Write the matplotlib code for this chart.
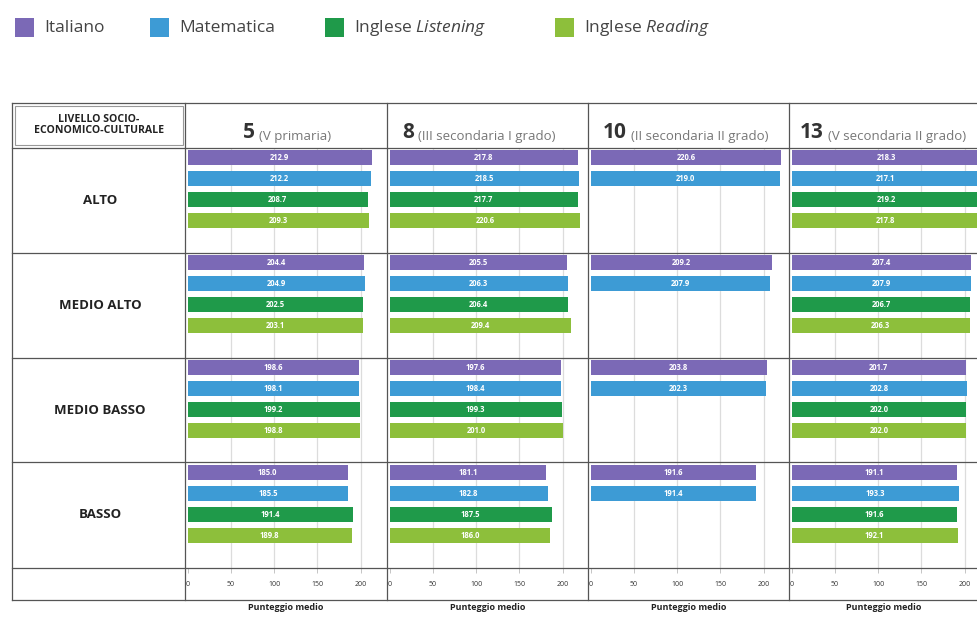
import matplotlib
matplotlib.use("Agg")
import matplotlib.pyplot as plt
from matplotlib.lines import Line2D
from matplotlib.patches import Rectangle

plt.rcParams['font.family'] = ['Open Sans', 'DejaVu Sans']
plt.rcParams['mathtext.fontset'] = 'custom'
plt.rcParams['mathtext.rm'] = 'Open Sans'
plt.rcParams['mathtext.it'] = 'Open Sans:italic'

# data
livelli = ["ALTO", "MEDIO ALTO", "MEDIO BASSO", "BASSO"]
materie = ["Italiano", "Matematica", "Inglese $\\it{Listening}$", "Inglese $\\it{Reading}$"]
colori = ["#7b69b6", "#3d9bd5", "#1f9a4a", "#8dbf3b"]

gradi = ["5", "8", "10", "13"]
sottotitoli = ["(V primaria)", "(III secondaria I grado)", "(II secondaria II grado)", "(V secondaria II grado)"]

# rows = livelli, columns = materie (None = not tested)
grado5 = [[212.9, 212.2, 208.7, 209.3],
          [204.4, 204.9, 202.5, 203.1],
          [198.6, 198.1, 199.2, 198.8],
          [185.0, 185.5, 191.4, 189.8]]
grado8 = [[217.8, 218.5, 217.7, 220.6],
          [205.5, 206.3, 206.4, 209.4],
          [197.6, 198.4, 199.3, 201.0],
          [181.1, 182.8, 187.5, 186.0]]
grado10 = [[220.6, 219.0, None, None],
           [209.2, 207.9, None, None],
           [203.8, 202.3, None, None],
           [191.6, 191.4, None, None]]
grado13 = [[218.3, 217.1, 219.2, 217.8],
           [207.4, 207.9, 206.7, 206.3],
           [201.7, 202.8, 202.0, 202.0],
           [191.1, 193.3, 191.6, 192.1]]
dati = [grado5, grado8, grado10, grado13]
tick_vals = [0, 50, 100, 150, 200]

W, H = 978, 617
fig = plt.figure(figsize=(W / 100, H / 100), dpi=100)

def fx(x):
    return x / W

def fy(y):
    return 1 - y / H

panel_x = [185, 387, 588, 789, 978]
top_rows, bot_rows, bottom_tab = 148, 568, 600
px_per_unit = 0.865

for k in range(4):
    x0, x1 = panel_x[k], panel_x[k + 1]
    ax = fig.add_axes([fx(x0), fy(bottom_tab), fx(x1 - x0), (bottom_tab - top_rows) / H])
    left = -3.0
    ax.set_xlim(left, left + (x1 - x0) / px_per_unit)
    ax.set_ylim(4.305, 0)
    ax.vlines(tick_vals[1:], 0, 4.0, color="#dcdcdc", lw=0.9, zorder=0)
    ax.vlines(tick_vals, 4.0, 4.05, color="#bbbbbb", lw=0.6, zorder=0)
    for i, riga in enumerate(dati[k]):
        for j, v in enumerate(riga):
            if v is None:
                continue
            yc = i + 0.09 + 0.2 * j
            ax.barh(yc, v, height=0.143, color=colori[j], zorder=2)
            ax.text(v / 2, yc, f"{v:.1f}", color="white", fontsize=5.5,
                    fontweight="bold", ha="center", va="center", zorder=3)
    for s in ax.spines.values():
        s.set_visible(False)
    ax.set_yticks([])
    ax.set_xticks(tick_vals)
    ax.set_xticklabels([str(t) for t in tick_vals])
    ax.tick_params(axis="x", length=0, pad=-14, labelsize=5, labelcolor="#333333")
    ax.set_xlabel("Punteggio medio", fontsize=6.5, fontweight="bold", labelpad=2, color="#222222")
    ax.patch.set_alpha(0)

# table lines
lc = "#555555"
for y in [103, 148, 253, 358, 462, 568, 600]:
    fig.add_artist(Line2D([fx(12), fx(978)], [fy(y), fy(y)], color=lc, lw=0.9))
for x in [12, 185, 387, 588, 789]:
    fig.add_artist(Line2D([fx(x), fx(x)], [fy(103), fy(600)], color=lc, lw=0.9))

# header cell for row labels
fig.add_artist(Rectangle((fx(15), fy(145)), fx(168), 39 / H, fill=False,
                         edgecolor="#999999", lw=0.8))
fig.text(fx(99), fy(125), "LIVELLO SOCIO-\nECONOMICO-CULTURALE", fontsize=7.6,
         fontweight="bold", ha="center", va="center", linespacing=1.1, color="#222222")

row_centers = [200, 305, 410, 515]
for lab, yc in zip(livelli, row_centers):
    fig.text(fx(100), fy(yc), lab, fontsize=9.5, fontweight="bold",
             ha="center", va="center", color="#222222")

title_x = [243, 402, 603, 800]
for g, sub, tx in zip(gradi, sottotitoli, title_x):
    t = fig.text(fx(tx), fy(138), g, fontsize=15, fontweight="bold",
                 ha="left", va="baseline", color="#333333")
    fig.add_artist(plt.Annotation(sub, xy=(1, 0), xycoords=t, xytext=(3, 0),
                                  textcoords="offset points", fontsize=9.5,
                                  color="#777777", va="bottom", ha="left"))

# legend (placed by hand to follow the reference spacing)
leg_sq = [15, 150, 325, 555]
for nome, c, sx in zip(materie, colori, leg_sq):
    fig.add_artist(Rectangle((fx(sx), fy(37)), fx(19), 19 / H, facecolor=c, edgecolor="none"))
    fig.text(fx(sx + 29), fy(28), nome, fontsize=12.5, color="#444444",
             ha="left", va="center")

fig.savefig("out.png", dpi=100)
